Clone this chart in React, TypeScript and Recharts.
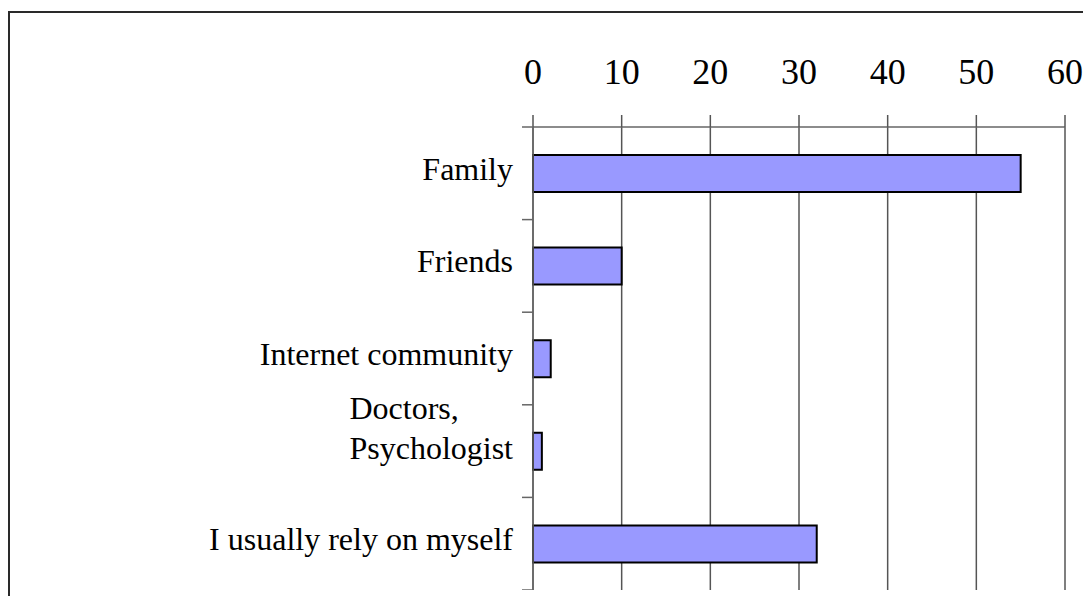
import { Bar, BarChart, CartesianGrid, XAxis, YAxis } from "recharts";

const categories = ["Family", "Friends", "Internet community", "Doctors,\nPsychologist", "I usually rely on myself"];
const counts = [55, 10, 2, 1, 32];
const xTicks = [0, 10, 20, 30, 40, 50, 60];

const data = categories.map((name, i) => ({ name, count: counts[i] }));

const W = 1073;
const H = 577;
const TOP = 114;
const FONT = "'Liberation Serif', 'Times New Roman', serif";
const band = (H - TOP) / categories.length;

function measure(text: string) {
  const ctx = document.createElement("canvas").getContext("2d");
  if (!ctx) return text.length * 14;
  ctx.font = "32px 'Liberation Serif'";
  return ctx.measureText(text).width;
}

// labels sit between boundary ticks, like the old spreadsheet chart
function CategoryTick(props: any) {
  const { x, y, payload, index } = props;
  const lines = String(payload.value).split("\n");
  const right = x - 20;
  const top = y - band / 2;
  const multi = lines.length > 1;
  const maxW = multi ? Math.max(...lines.map(measure)) : 0;
  const startY = multi ? y - 20 - 23 : y - 5;
  const tx = multi ? right - maxW : right;
  return (
    <g>
      <line x1={x - 11} x2={x} y1={top} y2={top} stroke="#666" strokeWidth={1.5} />
      {index === categories.length - 1 && (
        <line x1={x - 11} x2={x} y1={y + band / 2} y2={y + band / 2} stroke="#666" strokeWidth={1.5} />
      )}
      <text x={tx} y={startY} textAnchor={multi ? "start" : "end"} fontFamily={FONT} fontSize={32} fill="#000">
        {lines.map((l, i) => (
          <tspan key={i} x={tx} y={startY + i * 40} dy="0.35em">
            {l}
          </tspan>
        ))}
      </text>
    </g>
  );
}

export default function App() {
  return (
    <div
      style={{
        marginTop: 3,
        width: 1075,
        height: 585,
        boxSizing: "border-box",
        borderTop: "2px solid #2a2a2a",
        borderLeft: "2px solid #2a2a2a",
        background: "#fff",
      }}
    >
      <BarChart
        width={W}
        height={H}
        data={data}
        layout="vertical"
        margin={{ top: 0, right: 18, bottom: 0, left: 0 }}
        barCategoryGap="30%"
      >
        <CartesianGrid horizontal={false} stroke="#555" strokeWidth={1.5} />
        <XAxis
          type="number"
          orientation="top"
          domain={[0, 60]}
          ticks={xTicks}
          interval={0}
          height={TOP}
          tickSize={12}
          tickMargin={31}
          axisLine={{ stroke: "#666", strokeWidth: 1.5 }}
          tickLine={{ stroke: "#555", strokeWidth: 1.5 }}
          tick={{ fill: "#000", fontSize: 36, fontFamily: FONT }}
        />
        <YAxis
          type="category"
          dataKey="name"
          width={523}
          tickSize={0}
          tickMargin={0}
          tickLine={false}
          interval={0}
          axisLine={{ stroke: "#666", strokeWidth: 1.5 }}
          tick={<CategoryTick />}
        />
        <Bar dataKey="count" fill="#9999ff" stroke="#000" strokeWidth={2} barSize={37} isAnimationActive={false} />
      </BarChart>
    </div>
  );
}
